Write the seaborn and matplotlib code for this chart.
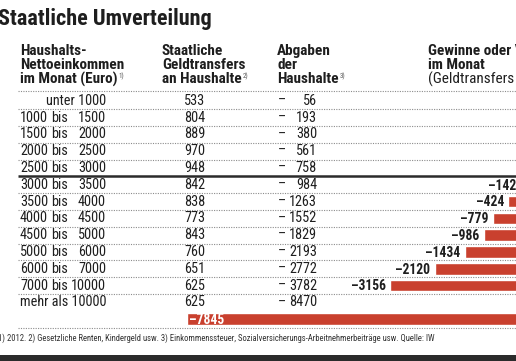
import matplotlib
matplotlib.use("Agg")
import matplotlib.pyplot as plt
import seaborn as sns
import pandas as pd
from matplotlib import font_manager as fm

# ---------------- data ----------------
income_labels = ["unter 1000", "1000 bis 1500", "1500 bis 2000", "2000 bis 2500",
                 "2500 bis 3000", "3000 bis 3500", "3500 bis 4000", "4000 bis 4500",
                 "4500 bis 5000", "5000 bis 6000", "6000 bis 7000", "7000 bis 10000",
                 "mehr als 10000"]
transfers = [533, 804, 889, 970, 948, 842, 838, 773, 843, 760, 651, 625, 625]
abgaben = [56, 193, 380, 561, 758, 984, 1263, 1552, 1829, 2193, 2772, 3782, 8470]
saldo_rows = ["3000 bis 3500", "3500 bis 4000", "4000 bis 4500", "4500 bis 5000",
              "5000 bis 6000", "6000 bis 7000", "7000 bis 10000", "mehr als 10000 (Saldo)"]
saldo = [-142, -424, -779, -986, -1434, -2120, -3156, -7845]

title = "Staatliche Umverteilung"
head1 = ["Haushalts-", "Nettoeinkommen", "im Monat (Euro)"]
head2 = ["Staatliche", "Geldtransfers", "an Haushalte"]
head3 = ["Abgaben", "der", "Haushalte"]
head4 = ["Gewinne oder Verluste", "im Monat", "(Geldtransfers minus Abgaben)"]
footnote = ("1) 2012. 2) Gesetzliche Renten, Kindergeld usw. 3) Einkommenssteuer, "
            "Sozialversicherungs-Arbeitnehmerbeiträge usw. Quelle: IW")

# ---------------- style ----------------
sns.set_theme(style="white")
names = sorted({f.name for f in fm.fontManager.ttflist})
narrow = [n for n in names if ("Narrow" in n or "Condensed" in n)]
pref = ["Liberation Sans Narrow", "Roboto Condensed", "Open Sans Condensed",
        "DejaVu Sans Condensed", "Noto Sans Condensed"]
FONT = None
for p in pref:
    if p in names:
        FONT = p
        break
if FONT is None and narrow:
    FONT = narrow[0]
if FONT is None:
    FONT = "Roboto" if "Roboto" in names else "DejaVu Sans"
plt.rcParams["font.family"] = [FONT, "DejaVu Sans"]

RED = "#c9402e"
TXT = "#1e1e1e"
W, H = 516, 361
ROW_Y0, ROW_H = 100.8, 16.8
ZERO_PX, PX_PER_EUR = 526.8, 0.04336

fig = plt.figure(figsize=(W / 100, H / 100), dpi=100)
fig.patch.set_facecolor("white")
renderer = fig.canvas.get_renderer()


def fit_size(s, target_px, weight="normal", base=10.0):
    t = fig.text(0, 0, s, fontsize=base, fontweight=weight)
    w = t.get_window_extent(renderer).width
    t.remove()
    return base * target_px / w


FS_TITLE = min(fit_size(title, 214, "bold"), 17)
FS_HEAD = min(fit_size("Nettoeinkommen", 104, "bold"), 11.5)
FS_BODY = min(fit_size("mehr als 10000", 86), 11.5)
FS_LAB = min(fit_size("–2120", 35, "bold"), 12)
FS_FOOT = min(fit_size(footnote, 438), 7.5)

# bar axes: x in euro, y in row index (categorical)
right_px = 560
bax = fig.add_axes([0, 0, right_px / W, 1])
cats = income_labels + ["mehr als 10000 (Saldo)"]
df = pd.DataFrame({"row": saldo_rows, "saldo": saldo})
sns.barplot(data=df, x="saldo", y="row", order=cats, orient="h", color=RED,
            saturation=1, width=0.7, ax=bax)
bax.set_xlim(-ZERO_PX / PX_PER_EUR, (right_px - ZERO_PX) / PX_PER_EUR)
bax.set_ylim((H - ROW_Y0) / ROW_H, -ROW_Y0 / ROW_H)
bax.set_axis_off()

for r, v in zip(saldo_rows, saldo):
    yi = cats.index(r)
    lab = "–" + str(abs(v))
    if r.endswith("(Saldo)"):
        bax.annotate(lab, (v, yi), xytext=(1.4, -0.8), textcoords="offset points",
                     ha="left", va="center", color="white", fontsize=FS_LAB,
                     fontweight="bold")
    else:
        bax.annotate(lab, (v, yi), xytext=(-3.2, -0.6), textcoords="offset points",
                     ha="right", va="center", color=TXT, fontsize=FS_LAB,
                     fontweight="bold")

# text / rule axes in pixel coordinates
tax = fig.add_axes([0, 0, 1, 1])
tax.set_xlim(0, W)
tax.set_ylim(H, 0)
tax.set_axis_off()


def ry(i):
    return ROW_Y0 + ROW_H * i


tax.text(-1.5, 25, title, fontsize=FS_TITLE, fontweight="bold", color=TXT,
         ha="left", va="baseline")


def sup_after(t, s):
    bb = t.get_window_extent(renderer)
    x, y = tax.transData.inverted().transform((bb.x1, bb.y1))
    tax.text(x + 0.8, y + 1.0, s, fontsize=5, color="#555555", ha="left", va="top")


hy = [51, 65, 79]
for cols, x, sup in ((head1, 20, "1)"), (head2, 162, "2)"), (head3, 277, "3)"),
                     (head4, 428, None)):
    for j, s in enumerate(cols):
        bold = not (cols is head4 and j == 2)
        t = tax.text(x, hy[j], s, fontsize=FS_HEAD, fontweight="bold" if bold else "normal",
                     color=TXT, ha="left", va="center")
        if j == 2 and sup:
            sup_after(t, sup)

# rules
dot = dict(color="#8c8c8c", lw=0.8, ls=(0, (1, 1.2)))
tax.plot([18, W], [91, 91], **dot)
for i in range(12):
    y = ry(i + 0.5)
    if i == 4:
        tax.plot([18, W], [y, y], color="#2b2b2b", lw=1.8, solid_capstyle="butt")
    else:
        tax.plot([18, W], [y, y], **dot)
tax.plot([18, W], [ry(13.5), ry(13.5)], **dot)

# table body
fs = FS_BODY
for i, lab in enumerate(income_labels):
    y = ry(i)
    if " bis " in lab:
        a, b = lab.split(" bis ")
        tax.text(20, y, a, fontsize=fs, color=TXT, ha="left", va="center")
        tax.text(51.5, y, "bis", fontsize=fs, color=TXT, ha="left", va="center")
        tax.text(106, y, b, fontsize=fs, color=TXT, ha="right", va="center")
    elif lab.startswith("unter"):
        tax.text(106, y, lab, fontsize=fs, color=TXT, ha="right", va="center")
    else:
        tax.text(20, y, lab, fontsize=fs, color=TXT, ha="left", va="center")
    tax.text(205.5, y, str(transfers[i]), fontsize=fs, color=TXT, ha="right", va="center")
    tax.text(278, y, "–", fontsize=fs, color=TXT, ha="left", va="center")
    tax.text(317, y, str(abgaben[i]), fontsize=fs, color=TXT, ha="right", va="center")

tax.text(-1.5, 338, footnote, fontsize=FS_FOOT, color="#333333", ha="left", va="center")
tax.axhspan(355, H, color="#2b2b2b", lw=0)

fig.savefig("out.png", dpi=100, facecolor="white")
